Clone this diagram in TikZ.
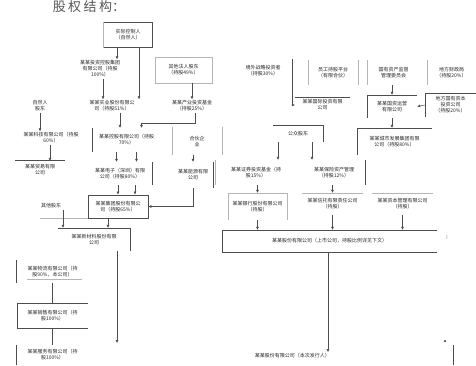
\documentclass[tikz,border=0pt]{standalone}
\usepackage{fontspec}
\setmainfont{Noto Sans CJK SC}
\usetikzlibrary{arrows.meta,positioning,calc}
\definecolor{eqLine}{HTML}{4d4d4d}
\definecolor{eqText}{HTML}{262626}
\definecolor{eqFaint}{HTML}{b5b5b5}
\definecolor{eqTitle}{HTML}{555555}
\tikzset{
  >={Latex[length=3pt,width=3pt]},
  ent/.style={align=center, inner sep=1pt, font=\fontsize{5}{6}\selectfont, text=eqText},
  ttl/.style={font=\fontsize{13}{13}\selectfont, text=eqTitle, inner sep=0pt},
  link/.style={->, draw=eqLine, line width=0.5pt},
  rule/.style={draw=eqLine, line width=0.6pt},
  heavy/.style={draw=eqLine, line width=1.1pt},
  faint/.style={draw=eqFaint, line width=0.5pt},
}
\begin{document}
\begin{tikzpicture}[x=1pt,y=-1pt]
  \useasboundingbox (0,0) rectangle (476,365);
  \node[ttl] (title) at (89,7) {股\hspace{2.5pt}权\hspace{2.5pt}结\hspace{2.5pt}构：};

  % left tree
  \node[ent,minimum width=49pt,minimum height=25pt] (top) at (128,35) {实际控制人\\（自然人）};
  \draw[rule] (top.north west) -- (top.north east);
  \draw[rule] (top.south west) -- (top.south east);
  \draw[heavy] (top.north east) -- (top.south east);
  \draw[faint] (top.north west) -- (top.south west);
  \node[ent] (a1) at (100,69) {某某投资控股集团\\有限公司（持股\\100\%）};
  \node[ent,draw=eqFaint,minimum width=57pt,minimum height=26pt] (a2) at (183.5,70) {其他法人股东\\（持股49\%）};
  \node[ent] (h0) at (40,106) {自然人\\股东};
  \node[ent,minimum width=55pt] (h1) at (112,106) {某某实业股份有限公\\司（持股51\%）};
  \node[ent] (h2) at (192,106) {某某产业投资基金\\（持股25\%）};
  \draw[link] ([xshift=-11pt]top.south) -- ([xshift=-11pt]top.south |- a1.north);
  \draw[link] ([xshift=11pt]top.south) -- ([xshift=11pt]top.south |- h1.north);
  \draw[link] ([xshift=3pt]a1.south) -- ([xshift=3pt]a1.south |- h1.north);
  \draw[link] (a2.south -| h2.north) -- (h2.north);

  \node[ent] (i1) at (51,138) {某某科技有限公司（持股\\60\%）};
  \node[ent,minimum width=67pt,minimum height=24pt] (i2) at (126.5,140) {某某控股有限公司（持股\\70\%）};
  \draw[heavy] (i2.north west) -- (i2.south west);
  \node[ent,minimum width=50pt,minimum height=27pt] (i3) at (197,141) {合伙企\\业};
  \draw[faint] (i3.north west) -- (i3.south west);
  \draw[faint] (i3.north east) -- (i3.south east);
  \draw[link] (h0.south) -- (h0.south |- i1.north);
  \draw[link] ([xshift=8pt]h1.south) -- ([xshift=8pt]h1.south |- i2.north);
  \draw[link] ([xshift=3pt]h2.south) |- ([xshift=15pt,yshift=5pt]i2.north) -- ([xshift=15pt]i2.north);

  \node[ent,minimum width=50pt,minimum height=18pt] (j1) at (40,170) {某某贸易有限\\公司};
  \draw[heavy] (j1.north west) -- (j1.north east);
  \node[ent,minimum width=64pt,minimum height=23pt] (j2) at (120,173.5) {某某电子（深圳）有限\\公司（持股80\%）};
  \draw[heavy] (j2.north east) -- (j2.south east);
  \node[ent,minimum width=40pt,minimum height=26pt] (j3) at (193,175) {某某能源有限\\公司};
  \draw[heavy] (j3.north east) -- (j3.south east);
  \draw[link] ([xshift=-1pt]i1.south) -- ([xshift=-1pt]i1.south |- j1.north);
  \draw[link] ([xshift=-10pt]i2.south) -- ([xshift=-10pt]i2.south |- j2.north);
  \draw[link] ([xshift=10pt]i2.south) -- ([xshift=10pt]i2.south |- j2.north);
  \draw[link] (i3.south -| j3.north) -- (j3.north);

  \node[ent,draw=eqLine,line width=0.6pt,minimum width=60pt,minimum height=23pt] (k1) at (118,206.5) {某某集团股份有限公\\司（持股65\%）};
  \node[ent] (k0) at (51,206) {其他股东};
  \draw[faint] (k0.west |- k1.south) -- (k1.south west);
  \draw[link] (j3.south) |- (k1.east);
  \draw[link] ([xshift=-2pt]j2.south) -- ([xshift=-2pt]j2.south |- k1.north);
  \draw[link] ([xshift=15pt]j2.south) -- ([xshift=15pt]j2.south |- k1.north);

  \node[ent,minimum width=72pt,minimum height=23pt] (l1) at (94,239.5) {某某新材料股份有限\\公司};
  \draw[rule] (l1.north west) -- (l1.north east) -- (l1.south east);
  \draw[link] ([xshift=12pt]k0.south) -- ([xshift=12pt]k0.south |- l1.north);
  \draw[link] ([xshift=-10pt]k1.south) -- ([xshift=-10pt]k1.south |- l1.north);
  \coordinate (lend) at (117,343);
  \draw[link] (l1.south -| lend) -- (lend);

  % left column
  \node[ent,minimum width=71pt,minimum height=23pt] (m1) at (52.5,271.5) {某某物流有限公司（持\\股90\%，本公司）};
  \draw[heavy] (m1.north west) -- (m1.south west);
  \draw[faint] ([xshift=10pt,yshift=4pt]m1.south west) -- ([xshift=-6pt,yshift=4pt]m1.south east);
  \node[ent,minimum width=71pt,minimum height=25pt] (m2) at (52.5,315.5) {某某销售有限公司（持\\股100\%）};
  \draw[rule] (m2.north east) -- (m2.north west) -- (m2.south west) -- (m2.south east);
  \node[ent,minimum width=71pt,minimum height=20pt] (m3) at (52.5,355) {某某服务有限公司（持\\股100\%）};
  \draw[heavy] (m3.north west) -- (m3.south west);
  \draw[eqLine] (m1.south -| 52,0) -- (m2.north -| 52,0);
  \draw[eqLine] (m2.south -| 52,0) -- (m3.north -| 52,0);

  % right tree
  \node[ent,minimum width=58pt,minimum height=24pt] (a3) at (263,71) {境外战略投资者\\（持股30\%）};
  \node[ent,minimum width=50pt,minimum height=25pt] (a4) at (333,72.5) {员工持股平台\\（有限合伙）};
  \draw[faint] (a4.north west) -- (a4.south west);
  \draw[faint] (a4.north east) -- (a4.south east);
  \node[ent,minimum width=53pt,minimum height=25pt] (a5) at (393.5,72.5) {国有资产监督\\管理委员会};
  \draw[faint] (a5.north west) -- (a5.south west);
  \node[ent,minimum width=49pt,minimum height=25pt] (a6) at (451.5,72.5) {地方财政局\\（持股20\%）};
  \draw[faint] (a6.north west) -- (a6.south west);

  \node[ent,minimum width=55pt,minimum height=16pt] (b1) at (322.5,105) {某某国际投资有限\\公司};
  \draw[rule] (b1.north west) -- (b1.north east);
  \draw[link] (a3.north east) |- (b1.west);
  \node[ent,minimum width=50pt,minimum height=23pt] (b2) at (392,106.5) {某某国资运营\\有限公司};
  \draw[rule] (b2.north east) -- (b2.north west) -- (b2.south west);
  \node[ent,minimum width=51pt,minimum height=24pt] (b3) at (450.5,105) {地方国有资本\\投资公司\\（持股20\%）};
  \draw[rule] (b3.north east) -- (b3.north west) -- (b3.south west);
  \draw[link] (a5.south -| b2.north) -- (b2.north);
  \draw[link] (b3.west) -- (b2.east);

  \node[ent,minimum width=75pt,minimum height=27pt] (b4) at (394.5,141.5) {某某城市发展集团有限\\公司（持股80\%）};
  \draw[rule] (b4.north east) -- (b4.north west) -- (b4.south west);
  \draw[link] (b2.south) -- (b2.south |- b4.north);
  \node[ent,minimum width=50pt,minimum height=17pt] (c1) at (298,133.5) {公众股东};
  \draw[rule] (c1.north west) -- (c1.north east) -- (c1.south east);

  \node[ent,minimum width=62pt,minimum height=25pt] (d1) at (256,172.5) {某某证券投资基金（持\\股15\%）};
  \draw[faint] ([xshift=-10pt]d1.north west) -- ([xshift=-10pt]d1.south west);
  \node[ent,minimum width=62pt,minimum height=25pt] (d2) at (334,172.5) {某某保险资产管理\\（持股12\%）};
  \draw[heavy] (d2.north east) -- (d2.south east);
  \draw[link] ([xshift=-20pt]c1.south) -- ([xshift=-20pt]c1.south |- d1.north);
  \draw[link] ([xshift=14pt]c1.south) -- ([xshift=14pt]c1.south |- d2.north);

  \node[ent,minimum width=59pt,minimum height=27pt] (e1) at (257.5,206.5) {某某银行股份有限公司\\（持股）};
  \draw[faint] (e1.south west) -- (e1.north west) -- (e1.north east) -- (e1.south east);
  \node[ent,minimum width=61pt,minimum height=22pt] (e2) at (332.5,204) {某某信托有限责任公司\\（持股）};
  \draw[faint] (e2.north west) -- (e2.north east);
  \node[ent,minimum width=61pt,minimum height=22pt] (e3) at (402.5,204) {某某资本管理有限公司\\（持股）};
  \draw[faint] (e3.north west) -- (e3.north east);
  \draw[link] (d1.south -| e1.north) -- (e1.north);
  \draw[link] (d2.south -| e2.north) -- (e2.north);

  \node[ent,minimum width=215pt,minimum height=22pt] (f) at (329.5,241) {某某股份有限公司（上市公司，持股比例详见下文）};
  \draw[rule] (f.north east) -- (f.north west) -- (f.south west) -- (f.south east);
  \node[ent,text=eqFaint] (fq) at (447,238) {F};
  \draw[link] (e1.south) -- (e1.south |- f.north);
  \draw[link] (e2.south) -- (e2.south |- f.north);
  \draw[link] (e3.south) -- (e3.south |- f.north);

  \node[ent,anchor=north east] (g) at (331,352) {某某股份有限公司（本次发行人）};
  \draw[link] ([xshift=-1.5pt]f.south) -- ([xshift=-1.5pt]f.south |- g.north);
  \node[circle,fill=eqLine,inner sep=0pt,minimum size=2.5pt] (dot) at (445,341) {};
  \draw[eqLine] (453,345) -- (453,365);
\end{tikzpicture}
\end{document}
